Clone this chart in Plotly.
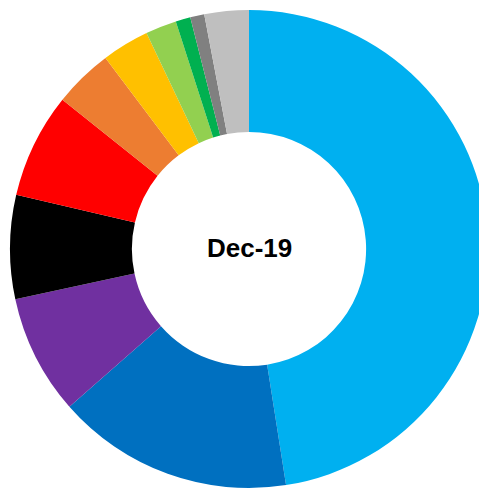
import plotly.graph_objects as go

labels = ["A", "B", "C", "D", "E", "F", "G", "H", "I", "J", "K"]
values = [47.5, 16.0, 8.1, 7.0, 7.1, 4.0, 3.2, 2.1, 1.0, 0.95, 3.0]
colors = ["#00B0F0", "#0070C0", "#7030A0", "#000000", "#FF0000", "#ED7D31",
          "#FFC000", "#92D050", "#00B050", "#808080", "#BFBFBF"]
center_text = "Dec-19"

fig = go.Figure(go.Pie(
    labels=labels, values=values, hole=0.49, sort=False,
    direction="clockwise", rotation=0,
    marker=dict(colors=colors, line=dict(width=0)),
    textinfo="none", hoverinfo="label+percent", showlegend=False,
))
fig.update_layout(
    width=487, height=492,
    margin=dict(l=2, r=7, t=2, b=12),
    paper_bgcolor="white", plot_bgcolor="white",
    annotations=[dict(text="<b>" + center_text + "</b>", x=0.5, y=0.502, xref="paper", yref="paper",
                      showarrow=False, font=dict(family="Liberation Sans, Arial", size=26, color="black"))],
)
fig.write_html("out.html")
